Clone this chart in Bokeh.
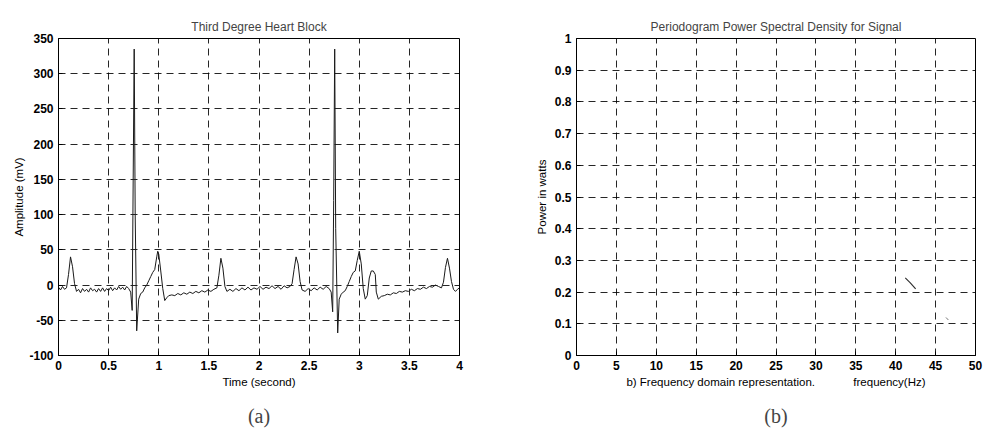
from bokeh.plotting import figure
from bokeh.layouts import row
from bokeh.models import FixedTicker, Title, Range1d
from bokeh.embed import file_html
from bokeh.resources import INLINE

# ---------------- data: panel (a) ECG ----------------
ecg_time = [
    0.00, 0.02, 0.04, 0.06, 0.08, 0.10, 0.12, 0.14, 0.16, 0.18,
    0.20, 0.22, 0.24, 0.26, 0.28, 0.30, 0.32, 0.34, 0.36, 0.38,
    0.40, 0.42, 0.44, 0.46, 0.48, 0.50, 0.52, 0.54, 0.56, 0.58,
    0.60, 0.62, 0.64, 0.66, 0.68, 0.70, 0.72, 0.735, 0.745, 0.755,
    0.765, 0.78, 0.80, 0.82, 0.84, 0.86, 0.88, 0.90, 0.92, 0.94,
    0.96, 0.98, 0.99, 1.00, 1.02, 1.04, 1.06, 1.08, 1.10, 1.13,
    1.16, 1.19, 1.22, 1.25, 1.28, 1.31, 1.34, 1.37, 1.40, 1.43,
    1.46, 1.49, 1.52, 1.55, 1.58, 1.60, 1.62, 1.64, 1.66, 1.68,
    1.71, 1.74, 1.77, 1.80, 1.83, 1.86, 1.89, 1.92, 1.95, 1.98,
    2.01, 2.04, 2.07, 2.10, 2.13, 2.16, 2.19, 2.22, 2.25, 2.28,
    2.31, 2.33, 2.35, 2.37, 2.39, 2.41, 2.43, 2.46, 2.49, 2.52,
    2.55, 2.58, 2.61, 2.64, 2.67, 2.70, 2.72, 2.735, 2.745, 2.755,
    2.765, 2.785, 2.80, 2.82, 2.84, 2.86, 2.88, 2.90, 2.92, 2.94,
    2.96, 2.98, 3.00, 3.02, 3.04, 3.06, 3.08, 3.10, 3.12, 3.14,
    3.16, 3.17, 3.19, 3.22, 3.25, 3.28, 3.31, 3.34, 3.37, 3.40,
    3.43, 3.46, 3.49, 3.52, 3.55, 3.58, 3.61, 3.64, 3.67, 3.70,
    3.73, 3.76, 3.79, 3.82, 3.84, 3.86, 3.88, 3.90, 3.92, 3.94,
    3.96, 3.98, 4.00,
]
ecg_amp = [
    -3, -7, -2, -6, -4, 15, 40, 26, 2, -9,
    -6, -11, -5, -9, -6, -10, -4, -8, -6, -10,
    -5, -9, -4, -9, -5, -8, -3, -8, -4, -7,
    -2, -6, -3, -7, -2, -5, -10, -36, 150, 335,
    100, -65, -20, -12, -10, -4, 0, 6, 12, 18,
    22, 40, 48, 44, 20, -5, -22, -18, -15, -14,
    -15, -12, -14, -11, -13, -10, -12, -9, -11, -8,
    -10, -7, -9, -6, -4, 14, 38, 24, -2, -9,
    -6, -9, -5, -8, -4, -7, -3, -7, -4, -6,
    -2, -6, -3, -5, -1, -5, -2, -6, -1, -4,
    -2, 2, 22, 40, 30, 5, -7, -9, -5, -8,
    -4, -7, -3, -6, -2, -5, -10, -38, 120, 335,
    80, -68, -20, -13, -10, -8, -2, 5, 12, 18,
    20, 35, 48, 30, -5, -20, -15, 10, 20, 20,
    15, -10, -20, -16, -15, -13, -14, -11, -12, -9,
    -10, -8, -9, -6, -8, -5, -6, -3, -5, -2,
    -3, 0, -2, -4, 4, 25, 38, 24, 5, -6,
    -9, -6, -4,
]
a_xticks = [0, 0.5, 1, 1.5, 2, 2.5, 3, 3.5, 4]
a_xlabels = ["0", "0.5", "1", "1.5", "2", "2.5", "3", "3.5", "4"]
a_yticks = [-100, -50, 0, 50, 100, 150, 200, 250, 300, 350]
a_ylabels = ["-100", "-50", "0", "50", "100", "150", "200", "250", "300", "350"]

# ---------------- data: panel (b) periodogram (faint visible traces) ----------------
psd_freq_1 = [41.2, 41.8, 42.5]
psd_power_1 = [0.245, 0.23, 0.21]
psd_freq_2 = [46.3, 46.6]
psd_power_2 = [0.12, 0.112]
b_xticks = [0, 5, 10, 15, 20, 25, 30, 35, 40, 45, 50]
b_yticks = [0, 0.1, 0.2, 0.3, 0.4, 0.5, 0.6, 0.7, 0.8, 0.9, 1]
b_ylabels = ["0", "0.1", "0.2", "0.3", "0.4", "0.5", "0.6", "0.7", "0.8", "0.9", "1"]

FONT = "Liberation Sans"


def style(p):
    p.outline_line_color = "black"
    p.outline_line_width = 1
    p.background_fill_color = "white"
    p.border_fill_color = "white"
    for ax in (p.xaxis[0], p.yaxis[0]):
        ax.axis_line_color = "black"
        ax.major_tick_in = 4
        ax.major_tick_out = 0
        ax.minor_tick_in = 0
        ax.minor_tick_out = 0
        ax.major_tick_line_color = "black"
        ax.major_label_text_font = FONT
        ax.major_label_text_font_size = "12px"
        ax.major_label_text_font_style = "bold"
        ax.major_label_text_color = "black"
        ax.axis_label_text_font = FONT
        ax.axis_label_text_font_size = "11.5px"
        ax.axis_label_text_font_style = "normal"
        ax.axis_label_text_color = "black"
    p.xaxis[0].major_label_standoff = 5
    p.yaxis[0].major_label_standoff = 5
    for g in (p.xgrid[0], p.ygrid[0]):
        g.grid_line_color = "black"
        g.grid_line_alpha = 0.85
        g.grid_line_dash = "7 5"
        g.grid_line_width = 1
    p.title.text_font = FONT
    p.title.text_font_size = "12px"
    p.title.text_font_style = "normal"
    p.title.align = "center"
    p.title.standoff = 9


# ---------------- panel (a) ----------------
pa = figure(width=480, height=439, output_backend="svg", toolbar_location=None,
            x_range=Range1d(0, 4), y_range=Range1d(-100, 350),
            title="Third Degree Heart Block",
            min_border_left=58, min_border_right=21, min_border_top=38, min_border_bottom=83)
pa.line(ecg_time, ecg_amp, line_color="#1a1a1a", line_width=1)
pa.xaxis.ticker = FixedTicker(ticks=a_xticks)
pa.xaxis.major_label_overrides = {t: l for t, l in zip(a_xticks, a_xlabels)}
pa.yaxis.ticker = FixedTicker(ticks=a_yticks)
pa.yaxis.major_label_overrides = {t: l for t, l in zip(a_yticks, a_ylabels)}
pa.xaxis.axis_label = "Time (second)"
pa.yaxis.axis_label = "Amplitude (mV)"
style(pa)
pa.xaxis.axis_label_standoff = 3
pa.yaxis.axis_label_standoff = 1
pa.add_layout(Title(text="(a)", align="center", offset=-25, text_font="Liberation Serif",
                    text_font_size="20px", text_font_style="normal", standoff=25), "below")

# ---------------- panel (b) ----------------
pb = figure(width=506, height=439, output_backend="svg", toolbar_location=None,
            x_range=Range1d(0, 50), y_range=Range1d(0, 1),
            title="Periodogram Power Spectral Density for Signal",
            min_border_left=96, min_border_right=11, min_border_top=38, min_border_bottom=84)
pb.line(psd_freq_1, psd_power_1, line_color="#333333", line_width=1.2)
pb.line(psd_freq_2, psd_power_2, line_color="#777777", line_width=1)
pb.xaxis.ticker = FixedTicker(ticks=b_xticks)
pb.yaxis.ticker = FixedTicker(ticks=b_yticks)
pb.yaxis.major_label_overrides = {t: l for t, l in zip(b_yticks, b_ylabels)}
nb = "\u00a0" * 12
pb.xaxis.axis_label = "b) Frequency domain representation." + nb + "frequency(Hz)"
pb.yaxis.axis_label = "Power in watts"
style(pb)
pb.xaxis.axis_label_standoff = 3
pb.yaxis.axis_label_standoff = 4
pb.add_layout(Title(text="(b)", align="center", offset=25, text_font="Liberation Serif",
                    text_font_size="20px", text_font_style="normal", standoff=25), "below")

layout = row(pa, pb, spacing=0)
open("out.html", "w").write(file_html(layout, INLINE))
